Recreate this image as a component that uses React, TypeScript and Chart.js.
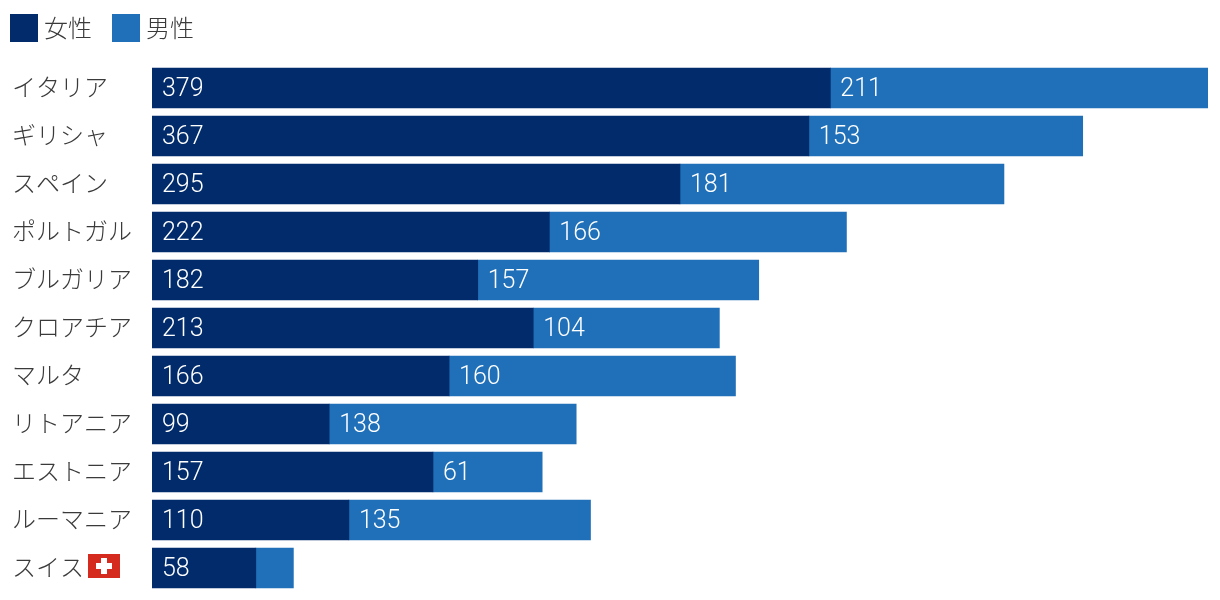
import React, { useEffect, useRef } from "react";
import { Chart, registerables } from "chart.js";

Chart.register(...registerables);

const countries = ["イタリア", "ギリシャ", "スペイン", "ポルトガル", "ブルガリア", "クロアチア", "マルタ", "リトアニア", "エストニア", "ルーマニア", "スイス"];
const women = [379, 367, 295, 222, 182, 213, 166, 99, 157, 110, 58];
const men = [211, 153, 181, 166, 157, 104, 160, 138, 61, 135, 21];
const seriesNames = ["女性", "男性"];
const flaggedCountry = "スイス";
const hiddenLabelBelow = 30;

const NAVY = "#012b6a";
const BLUE = "#2070b9";
const TEXT = "#3a3a3a";
const CJK = '"Noto Sans CJK JP", "Noto Sans", sans-serif';
const LATIN = 'Roboto, "Noto Sans", sans-serif';

const legendPlugin = {
  id: "topLegend",
  afterDraw(chart: any) {
    const { ctx } = chart;
    ctx.save();
    ctx.font = `300 24px ${CJK}`;
    ctx.textBaseline = "middle";
    ctx.textAlign = "left";
    let x = 10;
    chart.data.datasets.forEach((ds: any) => {
      ctx.fillStyle = ds.backgroundColor;
      ctx.fillRect(x, 14, 28, 28);
      ctx.fillStyle = TEXT;
      ctx.fillText(ds.label, x + 34, 28);
      x += 34 + ctx.measureText(ds.label).width + 20;
    });
    ctx.restore();
  },
};

const valueLabelPlugin = {
  id: "valueLabels",
  afterDatasetsDraw(chart: any) {
    const { ctx } = chart;
    ctx.save();
    ctx.font = `300 25px ${LATIN}`;
    ctx.fillStyle = "#ffffff";
    ctx.textBaseline = "middle";
    ctx.textAlign = "left";
    chart.data.datasets.forEach((ds: any, di: number) => {
      chart.getDatasetMeta(di).data.forEach((bar: any, i: number) => {
        const v = ds.data[i];
        if (v < hiddenLabelBelow) return;
        ctx.fillText(String(v), bar.base + 10, bar.y + 2);
      });
    });
    ctx.restore();
  },
};

const flagPlugin = {
  id: "flag",
  afterDraw(chart: any) {
    const { ctx, scales } = chart;
    const idx = chart.data.labels.indexOf(flaggedCountry);
    if (idx < 0) return;
    const cy = scales.y.getPixelForValue(idx) - 2;
    ctx.save();
    const x = 88;
    const y = cy - 12;
    ctx.fillStyle = "#d52b1e";
    ctx.fillRect(x, y, 32, 24);
    ctx.fillStyle = "#ffffff";
    ctx.fillRect(x + 13, y + 4, 6, 16);
    ctx.fillRect(x + 8, y + 9, 16, 6);
    ctx.restore();
  },
};

export default function App() {
  const ref = useRef<HTMLCanvasElement>(null);

  useEffect(() => {
    document.body.style.margin = "0";
    const chart = new Chart(ref.current!, {
      type: "bar",
      data: {
        labels: countries,
        datasets: [
          { label: seriesNames[0], data: women, backgroundColor: NAVY, barThickness: 40, borderWidth: 0 },
          { label: seriesNames[1], data: men, backgroundColor: BLUE, barThickness: 40, borderWidth: 0 },
        ],
      },
      options: {
        indexAxis: "y",
        animation: false,
        responsive: false,
        layout: { padding: { top: 64, right: 12, bottom: 8, left: 12 } },
        plugins: { legend: { display: false }, tooltip: { enabled: false } },
        scales: {
          x: { stacked: true, display: false, min: 0, max: 590 },
          y: {
            stacked: true,
            grid: { display: false },
            border: { display: false },
            afterFit(axis: any) {
              axis.width = 140;
              axis.paddingTop = 0;
              axis.paddingBottom = 0;
            },
            ticks: {
              autoSkip: false,
              crossAlign: "far",
              labelOffset: -1,
              color: TEXT,
              font: { family: CJK, size: 24, weight: "300" },
            },
          },
        },
      },
      plugins: [legendPlugin, valueLabelPlugin, flagPlugin],
    } as any);
    return () => chart.destroy();
  }, []);

  return <canvas ref={ref} width={1220} height={600} style={{ display: "block" }} />;
}
